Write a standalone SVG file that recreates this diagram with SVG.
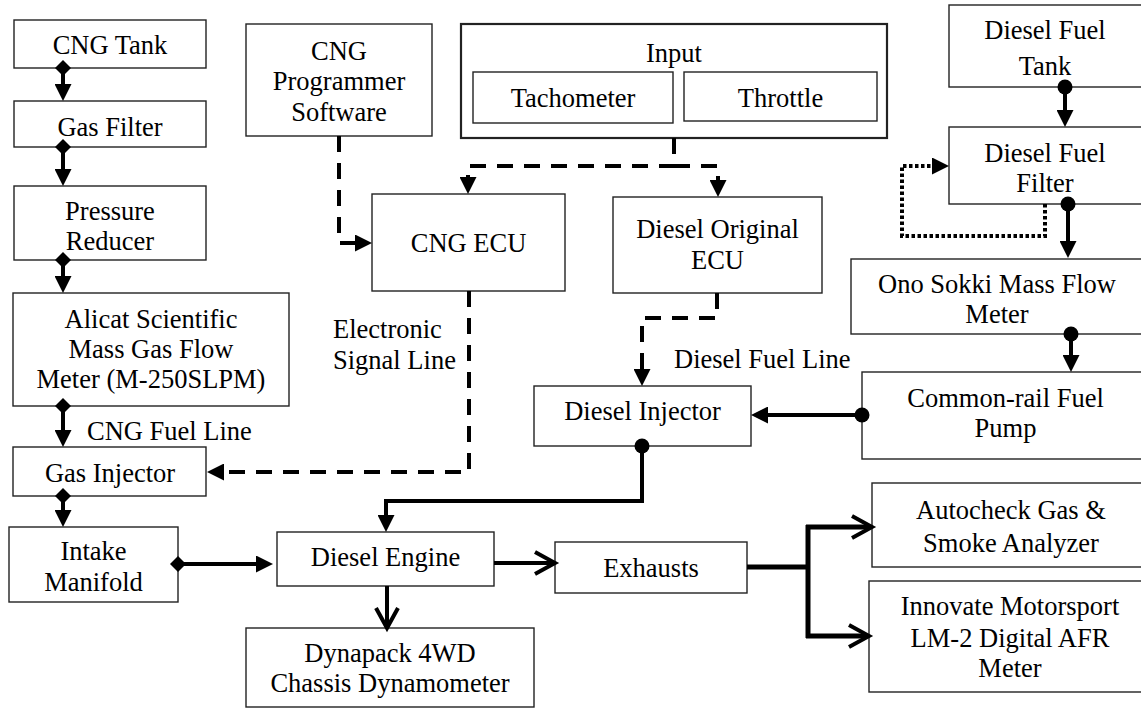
<svg xmlns="http://www.w3.org/2000/svg" width="1141" height="709" viewBox="0 0 1141 709">
<style>
.box{fill:#fff;stroke:#222;stroke-width:1.4}
.thick{stroke-width:2.2}
.t{font-family:"Liberation Serif","Times New Roman",serif;font-size:26.5px;fill:#000;text-anchor:middle}
.lbl{text-anchor:start}
.solid{fill:none;stroke:#000;stroke-width:4}
.exh{fill:none;stroke:#000;stroke-width:5}
.dash{fill:none;stroke:#000;stroke-width:4;stroke-dasharray:16 11}
.dot{fill:none;stroke:#000;stroke-width:4;stroke-dasharray:3.5 2.5}
</style>
<defs>
<marker id="tri" markerUnits="userSpaceOnUse" viewBox="0 0 17 17" markerWidth="17" markerHeight="17" refX="9" refY="8.5" orient="auto"><path d="M0,0 L17,8.5 L0,17 Z" fill="#000"/></marker>
<marker id="chev" markerUnits="userSpaceOnUse" viewBox="0 0 22 24" markerWidth="22" markerHeight="24" refX="18" refY="12" orient="auto" overflow="visible"><path d="M0,1 L20,12 L0,23" fill="none" stroke="#000" stroke-width="4"/></marker>
<marker id="dia" markerUnits="userSpaceOnUse" viewBox="0 0 16 16" markerWidth="16" markerHeight="16" refX="8" refY="8"><path d="M8,0 L16,8 L8,16 L0,8 Z" fill="#000"/></marker>
<marker id="circ" markerUnits="userSpaceOnUse" viewBox="0 0 16 16" markerWidth="16" markerHeight="16" refX="8" refY="8"><circle cx="8" cy="8" r="7.5" fill="#000"/></marker>
</defs>
<rect width="1141" height="709" fill="#fff"/>

<g id="cng-tank"><rect class="box" x="14" y="20" width="192" height="48"/><text class="t" x="110" y="54">CNG Tank</text></g>
<g id="gas-filter"><rect class="box" x="14" y="101" width="192" height="46"/><text class="t" x="110" y="136">Gas Filter</text></g>
<g id="pressure-reducer"><rect class="box" x="14" y="186" width="192" height="74"/><text class="t" x="110" y="220">Pressure</text><text class="t" x="110" y="250">Reducer</text></g>
<g id="alicat"><rect class="box" x="13" y="293" width="276" height="113"/><text class="t" x="151" y="328">Alicat Scientific</text><text class="t" x="151" y="358">Mass Gas Flow</text><text class="t" x="151" y="388">Meter (M-250SLPM)</text></g>
<g id="gas-injector"><rect class="box" x="13" y="447" width="193" height="49"/><text class="t" x="110" y="482">Gas Injector</text></g>
<g id="intake-manifold"><rect class="box" x="9" y="527" width="169" height="75"/><text class="t" x="93.5" y="560">Intake</text><text class="t" x="93.5" y="591">Manifold</text></g>
<g id="cng-programmer"><rect class="box" x="246" y="24" width="186" height="112"/><text class="t" x="339" y="60">CNG</text><text class="t" x="339" y="90">Programmer</text><text class="t" x="339" y="121">Software</text></g>
<g id="input"><rect class="box thick" x="461" y="24" width="426" height="114"/><text class="t" x="674" y="62">Input</text>
<g id="tachometer"><rect class="box" x="473" y="72" width="200" height="51"/><text class="t" x="573" y="107">Tachometer</text></g>
<g id="throttle"><rect class="box" x="684" y="72" width="193" height="49"/><text class="t" x="780.5" y="107">Throttle</text></g></g>
<g id="cng-ecu"><rect class="box" x="372" y="194" width="193" height="97"/><text class="t" x="468.5" y="252">CNG ECU</text></g>
<g id="diesel-ecu"><rect class="box" x="613" y="197" width="209" height="96"/><text class="t" x="717.5" y="238">Diesel Original</text><text class="t" x="717.5" y="269">ECU</text></g>
<g id="diesel-injector"><rect class="box" x="534" y="386" width="217" height="60"/><text class="t" x="642.5" y="420">Diesel Injector</text></g>
<g id="diesel-engine"><rect class="box" x="277" y="532" width="217" height="54"/><text class="t" x="385.5" y="566">Diesel Engine</text></g>
<g id="dynapack"><rect class="box" x="246" y="628" width="288" height="79"/><text class="t" x="390" y="662">Dynapack 4WD</text><text class="t" x="390" y="692">Chassis Dynamometer</text></g>
<g id="exhausts"><rect class="box" x="555" y="542" width="192" height="51"/><text class="t" x="651" y="577">Exhausts</text></g>
<g id="autocheck"><rect class="box" x="872" y="483" width="280" height="84"/><text class="t" x="1011" y="519">Autocheck Gas &amp;</text><text class="t" x="1011" y="552">Smoke Analyzer</text></g>
<g id="innovate"><rect class="box" x="869" y="581" width="282" height="111"/><text class="t" x="1010" y="615">Innovate Motorsport</text><text class="t" x="1010" y="647">LM-2 Digital AFR</text><text class="t" x="1010" y="677">Meter</text></g>
<g id="diesel-tank"><rect class="box" x="949" y="5" width="200" height="82"/><text class="t" x="1045" y="39">Diesel Fuel</text><text class="t" x="1045" y="75">Tank</text></g>
<g id="diesel-filter"><rect class="box" x="949" y="127" width="200" height="77"/><text class="t" x="1045" y="162">Diesel Fuel</text><text class="t" x="1045" y="192">Filter</text></g>
<g id="ono-sokki"><rect class="box" x="851" y="259" width="300" height="75"/><text class="t" x="997" y="293">Ono Sokki Mass Flow</text><text class="t" x="997" y="323">Meter</text></g>
<g id="common-rail"><rect class="box" x="862" y="372" width="290" height="87"/><text class="t" x="1005.5" y="407">Common-rail Fuel</text><text class="t" x="1005.5" y="437">Pump</text></g>

<g id="labels">
<text class="t lbl" x="87" y="440">CNG Fuel Line</text>
<text class="t lbl" x="333" y="338">Electronic</text>
<text class="t lbl" x="333" y="369">Signal Line</text>
<text class="t lbl" x="674" y="368">Diesel Fuel Line</text>
</g>

<g id="connectors">
<path class="solid" d="M63,68 V93" marker-start="url(#dia)" marker-end="url(#tri)"/>
<path class="solid" d="M63,147 V178" marker-start="url(#dia)" marker-end="url(#tri)"/>
<path class="solid" d="M63,260 V285" marker-start="url(#dia)" marker-end="url(#tri)"/>
<path class="solid" d="M63,406 V439" marker-start="url(#dia)" marker-end="url(#tri)"/>
<path class="solid" d="M63,496 V519" marker-start="url(#dia)" marker-end="url(#tri)"/>
<path class="solid" d="M178,564 H265" marker-start="url(#dia)" marker-end="url(#tri)"/>
<path class="solid" d="M1065,87 V119" marker-start="url(#circ)" marker-end="url(#tri)"/>
<path class="solid" d="M1068,204 V250" marker-start="url(#circ)" marker-end="url(#tri)"/>
<path class="solid" d="M1071,334 V364" marker-start="url(#circ)" marker-end="url(#tri)"/>
<path class="solid" d="M862,415 H759" marker-start="url(#circ)" marker-end="url(#tri)"/>
<path class="solid" d="M642,446 V501 H386 V524" marker-start="url(#circ)" marker-end="url(#tri)"/>
<path class="dash" d="M339,136 V243 H364" marker-end="url(#tri)"/>
<path class="dash" d="M674,138 V166 H468 V186" marker-end="url(#tri)"/>
<path class="dash" d="M674,166 H718 V189" marker-end="url(#tri)"/>
<path class="dash" d="M717,293 V318 H642 V378" marker-end="url(#tri)"/>
<path class="dash" d="M469,291 V472 H215" marker-end="url(#tri)"/>
<path class="dot" d="M1045,204 V236 H902 V166 H941" marker-end="url(#tri)"/>
<path class="solid" d="M494,563 H553" marker-end="url(#chev)"/>
<path class="solid" d="M387,586 V626" marker-end="url(#chev)"/>
<path class="exh" d="M747,567 H808"/>
<path class="exh" d="M808,525 V638"/>
<path class="exh" d="M806,527 H870" marker-end="url(#chev)"/>
<path class="exh" d="M806,636 H867" marker-end="url(#chev)"/>
</g>
</svg>
